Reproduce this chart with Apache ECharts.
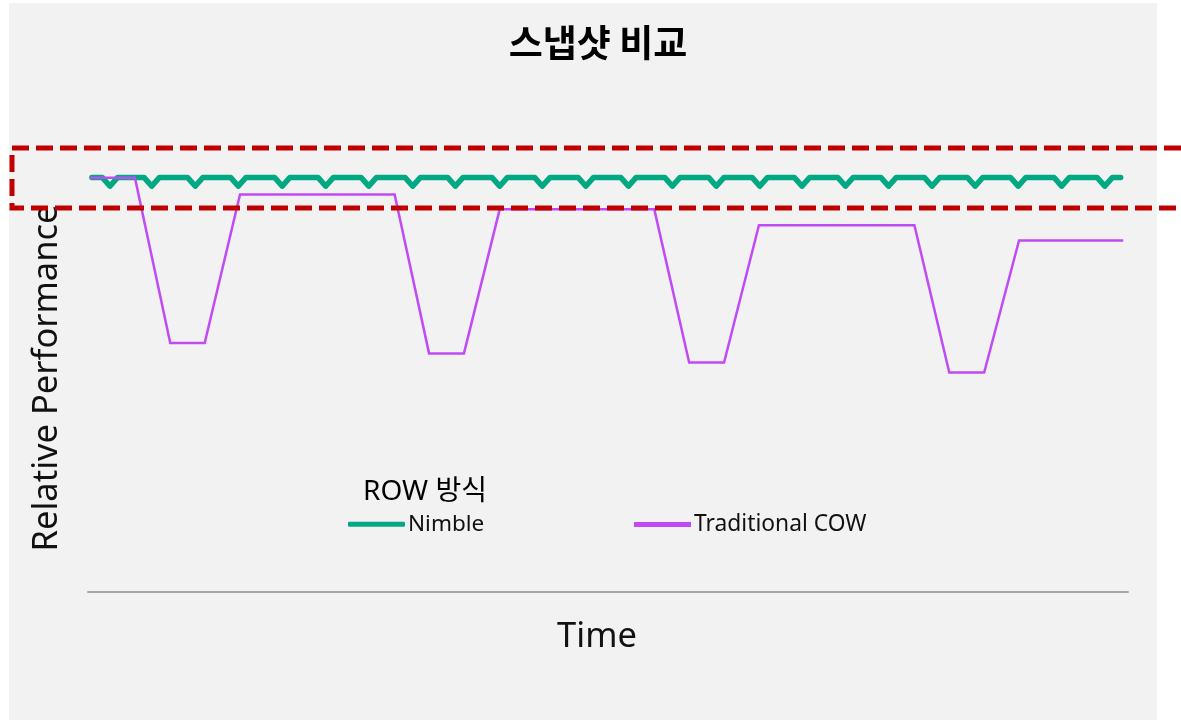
<!DOCTYPE html>
<html>
<head>
<meta charset="utf-8">
<script src="https://cdn.jsdelivr.net/npm/echarts@6/dist/echarts.min.js"></script>
<style>
  html, body { margin: 0; padding: 0; background: #ffffff; }
  #chart { width: 1181px; height: 720px; }
</style>
</head>
<body>
<div id="chart"></div>
<script>
// ---- data (time in snapshot-interval units, relative performance in %) ----
const chartTitle = '스냅샷 비교';
const legendTitle = 'ROW 방식';
const seriesNames = ['Nimble', 'Traditional COW'];
const xAxisTitle = 'Time';
const yAxisTitle = 'Relative Performance';

const nimbleTime = [
  0.04, 0.28, 0.46, 0.64, 1.25, 1.43, 1.61, 2.26, 2.44, 2.62, 3.26, 3.44, 3.62,
  4.28, 4.46, 4.64, 5.29, 5.47, 5.65, 6.29, 6.47, 6.65, 7.31, 7.49, 7.67,
  8.30, 8.48, 8.66, 9.33, 9.51, 9.69, 10.32, 10.50, 10.68, 11.33, 11.51, 11.69,
  12.32, 12.50, 12.68, 13.34, 13.52, 13.70, 14.36, 14.54, 14.72, 15.37, 15.55, 15.73,
  16.35, 16.53, 16.71, 17.36, 17.54, 17.72, 18.36, 18.54, 18.72, 19.37, 19.55, 19.73,
  20.37, 20.55, 20.73, 21.37, 21.55, 21.73, 22.38, 22.56, 22.74, 23.38, 23.56, 23.74, 23.93
];
const nimbleValue = [
  99.9, 99.9, 97.8, 99.9, 99.9, 97.8, 99.9, 99.9, 97.8, 99.9, 99.9, 97.8, 99.9,
  99.9, 97.8, 99.9, 99.9, 97.8, 99.9, 99.9, 97.8, 99.9, 99.9, 97.8, 99.9,
  99.9, 97.8, 99.9, 99.9, 97.8, 99.9, 99.9, 97.8, 99.9, 99.9, 97.8, 99.9,
  99.9, 97.8, 99.9, 99.9, 97.8, 99.9, 99.9, 97.8, 99.9, 99.9, 97.8, 99.9,
  99.9, 97.8, 99.9, 99.9, 97.8, 99.9, 99.9, 97.8, 99.9, 99.9, 97.8, 99.9,
  99.9, 97.8, 99.9, 99.9, 97.8, 99.9, 99.9, 97.8, 99.9, 99.9, 97.8, 99.9, 99.9
];

const cowTime = [0, 1.04, 1.86, 2.66, 3.48, 7.07, 7.87, 8.68, 9.51, 13.10, 13.91, 14.72, 15.53, 19.14, 19.95, 20.76, 21.57, 23.99];
const cowValue = [99.8, 99.8, 60.0, 60.0, 95.8, 95.8, 57.5, 57.5, 92.2, 92.2, 55.3, 55.3, 88.4, 88.4, 52.9, 52.9, 84.7, 84.7];

// ---- build series data ----
const nimbleData = nimbleTime.map((t, i) => [t, nimbleValue[i]]);
const cowData = cowTime.map((t, i) => [t, cowValue[i]]);

const GREEN = '#01A982';
const PURPLE = '#C04BF6';
const LATIN = '"Noto Sans", "Noto Sans CJK KR", sans-serif';
const CJK = '"Noto Sans CJK KR", "Noto Sans", sans-serif';

const chart = echarts.init(document.getElementById('chart'), null, { renderer: 'canvas' });

chart.setOption({
  animation: false,
  backgroundColor: 'transparent',
  title: {
    text: chartTitle,
    left: 598,
    top: 24,
    padding: 0,
    textAlign: 'center',
    textStyle: { fontFamily: CJK, fontWeight: 'bold', fontSize: 37, color: '#000000' }
  },
  legend: [
    {
      data: [{ name: seriesNames[0], icon: 'roundRect' }],
      left: 348,
      top: 513,
      padding: 0,
      itemWidth: 57,
      itemHeight: 5,
      itemGap: 0,
      textStyle: { fontFamily: LATIN, fontSize: 22.5, color: '#111111', padding: [0, 0, 0, -2] }
    },
    {
      data: [{ name: seriesNames[1], icon: 'rect' }],
      left: 634,
      top: 513,
      padding: 0,
      itemWidth: 57,
      itemHeight: 5,
      itemGap: 0,
      textStyle: { fontFamily: LATIN, fontSize: 22.8, color: '#111111', padding: [0, 0, 0, -2] }
    }
  ],
  grid: { left: 88, right: 53, top: 135.5, bottom: 128, containLabel: false },
  xAxis: {
    type: 'value',
    min: -0.05,
    max: 24.1,
    axisLine: { show: true, lineStyle: { color: '#a6a6a6', width: 2 } },
    axisTick: { show: false },
    axisLabel: { show: false },
    splitLine: { show: false }
  },
  yAxis: {
    type: 'value',
    min: 0,
    max: 110,
    axisLine: { show: false },
    axisTick: { show: false },
    axisLabel: { show: false },
    splitLine: { show: false }
  },
  series: [
    {
      name: seriesNames[0],
      type: 'line',
      data: nimbleData,
      symbol: 'none',
      clip: false,
      lineStyle: { color: GREEN, width: 5.5, cap: 'round', join: 'round' },
      itemStyle: { color: GREEN },
      z: 3
    },
    {
      name: seriesNames[1],
      type: 'line',
      data: cowData,
      symbol: 'none',
      clip: false,
      lineStyle: { color: PURPLE, width: 2.5, join: 'miter' },
      itemStyle: { color: PURPLE },
      z: 4
    }
  ],
  graphic: [
    {
      type: 'rect',
      z: -10,
      silent: true,
      shape: { x: 9, y: 3, width: 1148, height: 717 },
      style: { fill: '#f2f2f2' }
    },
    {
      type: 'text',
      z: 10,
      silent: true,
      x: 47,
      y: 378,
      rotation: Math.PI / 2,
      style: {
        text: yAxisTitle,
        fontFamily: LATIN,
        fontSize: 34.5,
        fill: '#111111',
        align: 'center',
        verticalAlign: 'middle'
      }
    },
    {
      type: 'text',
      z: 10,
      silent: true,
      x: 597,
      y: 637,
      style: {
        text: xAxisTitle,
        fontFamily: LATIN,
        fontSize: 34.5,
        fill: '#111111',
        align: 'center',
        verticalAlign: 'middle'
      }
    },
    {
      type: 'text',
      z: 10,
      silent: true,
      x: 425,
      y: 492,
      style: {
        text: legendTitle,
        fontFamily: LATIN,
        fontSize: 28,
        fill: '#000000',
        align: 'center',
        verticalAlign: 'middle'
      }
    },
    {
      type: 'rect',
      z: 100,
      silent: true,
      shape: { x: 12, y: 148, width: 1200, height: 60 },
      style: { fill: 'none', stroke: '#C00000', lineWidth: 5, lineDash: [17, 7] }
    }
  ]
});
</script>
</body>
</html>
